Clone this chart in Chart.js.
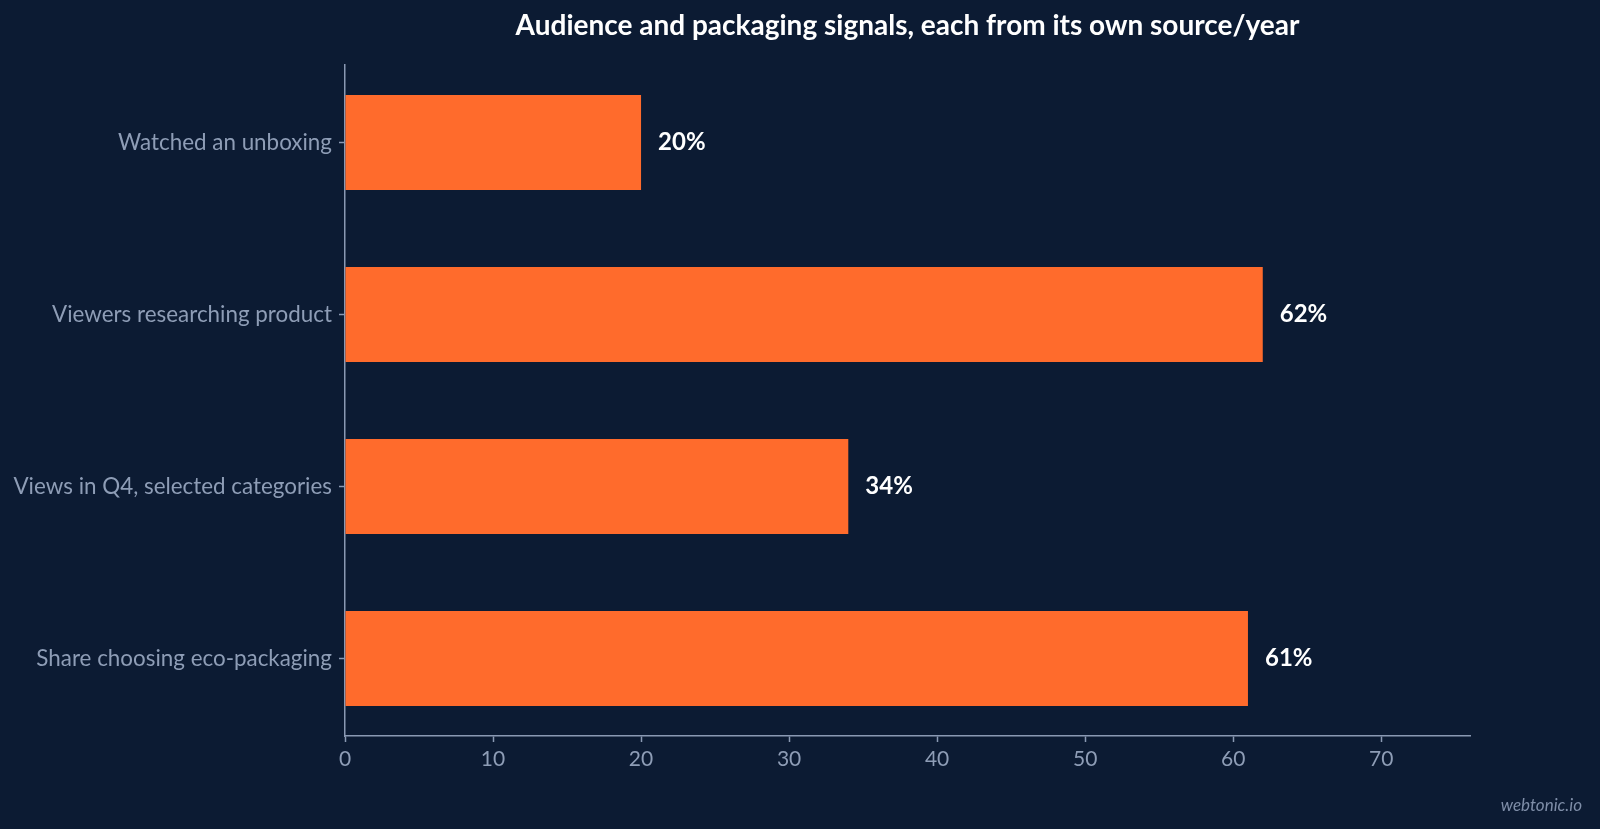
<!DOCTYPE html>
<html>
<head>
<meta charset="utf-8">
<title>Audience and packaging signals</title>
<script src="https://cdn.jsdelivr.net/npm/chart.js@4/dist/chart.umd.min.js"></script>
<style>
  html, body { margin: 0; padding: 0; background: #0c1b33; }
  #wrap { width: 1600px; height: 829px; position: relative; }
</style>
</head>
<body>
<div id="wrap"><canvas id="chart"></canvas></div>
<script>
// Chart data
const categories = [
    'Watched an unboxing',
    'Viewers researching product',
    'Views in Q4, selected categories',
    'Share choosing eco-packaging'
];
const shares = [20, 62, 34, 61];
const xTicks = [0, 10, 20, 30, 40, 50, 60, 70];
const titleText = 'Audience and packaging signals, each from its own source/year';
const watermark = 'webtonic.io';

const BAR = '#ff6b2c';
const AXIS = '#8a99b3';
const LABEL = '#8e9db6';

// Title centred over the plot area, value labels and watermark
const overlay = {
    id: 'overlay',
    afterDatasetsDraw(chart) {
        const ctx = chart.ctx;
        const area = chart.chartArea;
        const meta = chart.getDatasetMeta(0);
        ctx.save();
        ctx.fillStyle = '#ffffff';
        ctx.font = 'bold 24px Lato';
        ctx.textAlign = 'left';
        ctx.textBaseline = 'middle';
        meta.data.forEach((bar, i) => {
            ctx.fillText(shares[i] + '%', bar.x + 17, bar.y);
        });

        ctx.font = 'bold 28px Lato';
        ctx.textAlign = 'center';
        ctx.fillText(titleText, (area.left + area.right) / 2, 26);

        ctx.font = 'italic 17px Lato';
        ctx.fillStyle = '#7f8ea8';
        ctx.textAlign = 'right';
        ctx.fillText(watermark, 1582, 806);
        ctx.restore();
    }
};

new Chart(document.getElementById('chart'), {
    type: 'bar',
    data: {
        datasets: [{
            data: shares.map((v, i) => ({ x: v, y: i })),
            backgroundColor: BAR,
            borderWidth: 0,
            categoryPercentage: 1,
            barPercentage: 0.552
        }]
    },
    options: {
        indexAxis: 'y',
        responsive: true,
        maintainAspectRatio: false,
        devicePixelRatio: 1,
        animation: false,
        layout: { padding: { top: 65, right: 130, left: 0, bottom: 0 } },
        plugins: {
            legend: { display: false },
            tooltip: { enabled: false },
            title: { display: false }
        },
        scales: {
            x: {
                type: 'linear',
                min: 0,
                max: 76,
                afterFit(scale) { scale.height = 93; },
                afterBuildTicks(scale) {
                    scale.ticks = xTicks.map(v => ({ value: v }));
                },
                grid: {
                    drawOnChartArea: false,
                    drawTicks: true,
                    tickLength: 6,
                    tickWidth: 1.5,
                    tickColor: AXIS
                },
                border: { display: true, color: AXIS, width: 1.5 },
                ticks: {
                    color: LABEL,
                    font: { family: 'Lato', size: 21 },
                    padding: 5
                }
            },
            y: {
                type: 'linear',
                min: -0.45,
                max: 3.45,
                reverse: true,
                offset: false,
                afterFit(scale) { scale.width = 345; },
                afterBuildTicks(scale) {
                    scale.ticks = categories.map((c, i) => ({ value: i }));
                },
                grid: {
                    offset: false,
                    drawOnChartArea: false,
                    drawTicks: true,
                    tickLength: 6,
                    tickWidth: 1.5,
                    tickColor: AXIS
                },
                border: { display: true, color: AXIS, width: 1.5 },
                ticks: {
                    color: LABEL,
                    font: { family: 'Lato', size: 22.4 },
                    padding: 7,
                    callback: (value) => categories[value]
                }
            }
        }
    },
    plugins: [overlay]
});
</script>
</body>
</html>
